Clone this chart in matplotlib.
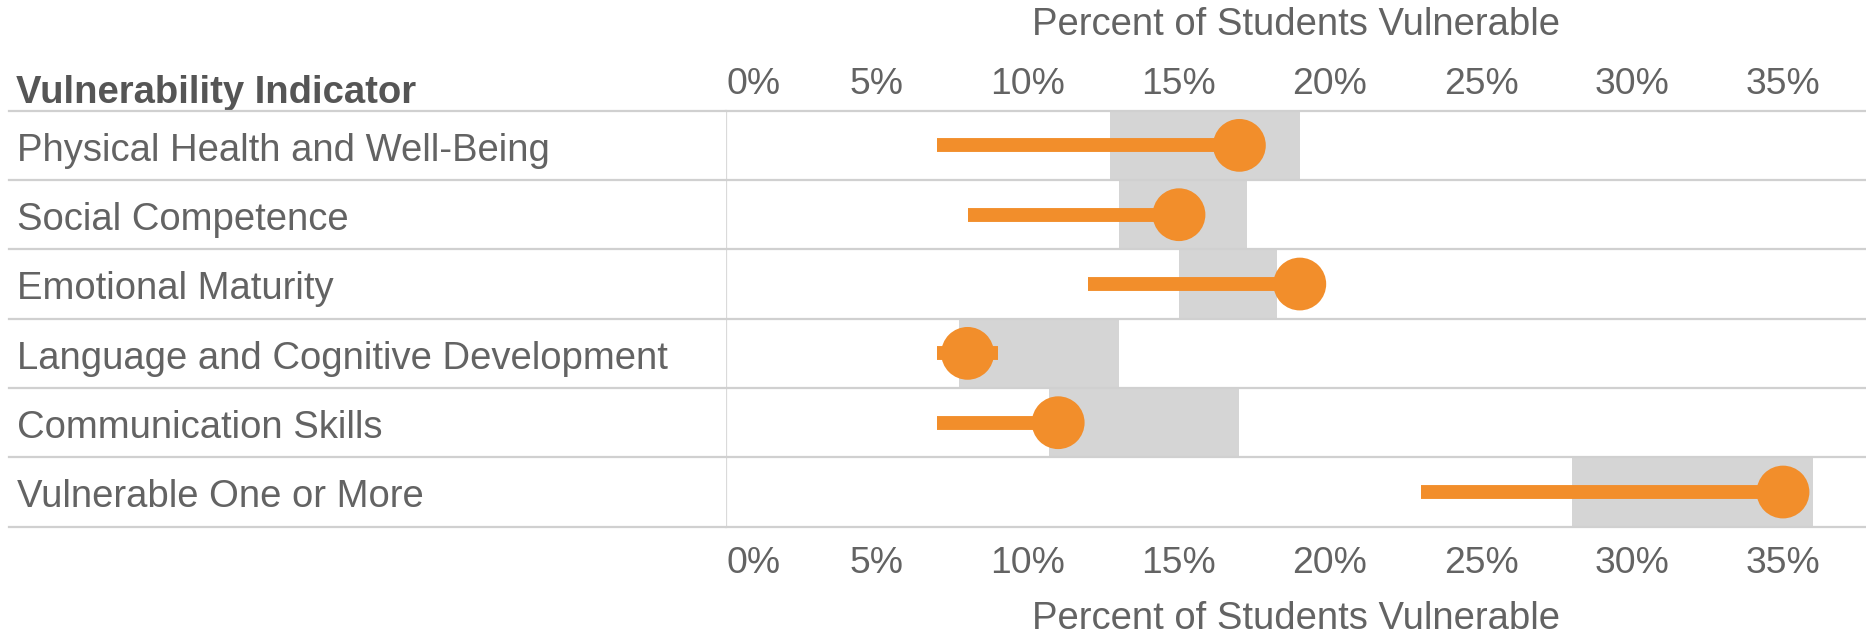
import numpy as np
import matplotlib
matplotlib.use("Agg")
import matplotlib.pyplot as plt
import matplotlib.transforms as mtransforms

plt.rcParams['font.family'] = ['Liberation Sans', 'DejaVu Sans']

#%% data
indicators = ["Physical Health and Well-Being", "Social Competence", "Emotional Maturity",
              "Language and Cognitive Development", "Communication Skills", "Vulnerable One or More"]
current = [17.0, 15.0, 19.0, 8.0, 11.0, 35.0]       # orange dot
line_lo = [7.0, 8.0, 12.0, 7.0, 7.0, 23.0]          # orange bar left end
line_hi = [17.0, 15.0, 19.0, 9.0, 11.0, 35.0]       # orange bar right end
band_lo = [12.7, 13.0, 15.0, 7.7, 10.7, 28.0]       # grey band
band_hi = [19.0, 17.25, 18.25, 13.0, 17.0, 36.0]
ticks = [0, 5, 10, 15, 20, 25, 30, 35]
tick_labels = ["0%", "5%", "10%", "15%", "20%", "25%", "30%", "35%"]

#%% layout in pixels
W, H = 1866, 635
fig = plt.figure(figsize=(W / 100, H / 100), dpi=100)
ax_l, ax_r, ax_t, ax_b = 726, 1866, 110.7, 526.7
ax = fig.add_axes([ax_l / W, 1 - ax_b / H, (ax_r - ax_l) / W, (ax_b - ax_t) / H])
lab = fig.add_axes([9 / W, 1 - ax_b / H, (ax_l - 9) / W, (ax_b - ax_t) / H])

orange = '#F28E2B'
grey_band = '#D5D5D5'
grid_c = '#D0D0D0'
txt_c = '#636363'
fs = 27.5
tfs = 26.8

n = len(indicators)
y = np.arange(n) + 0.5

ax.barh(y, np.array(band_hi) - np.array(band_lo), left=band_lo, height=1.0,
        color=grey_band, zorder=1)
ax.hlines(y, line_lo, line_hi, color=orange, linewidth=10, capstyle='butt', zorder=2)
ax.scatter(current, y, s=1444, color=orange, edgecolors='none', zorder=3)

for a in (ax, lab):
    a.set_ylim(n, 0)
    for b in range(n + 1):
        a.axhline(b, color=grid_c, linewidth=1.6, zorder=4, clip_on=False)
    for s in a.spines.values():
        s.set_visible(False)

ax.set_xlim(0, (ax_r - ax_l) / 30.2)
ax.axvline(0, color='#DADADA', linewidth=0.9, zorder=4)
ax.set_yticks([])

# bottom tick labels
ax.set_xticks(ticks)
ax.set_xticklabels(tick_labels)
ax.tick_params(axis='x', length=0, pad=14, labelsize=tfs, labelcolor=txt_c)
ax.xaxis.get_majorticklabels()[0].set_ha('left')

# top tick labels
top = ax.secondary_xaxis('top')
top.set_xticks(ticks)
top.set_xticklabels(tick_labels)
top.tick_params(axis='x', length=0, pad=11.8, labelsize=tfs, labelcolor=txt_c)
for t in top.xaxis.get_majorticklabels():
    t.set_va('baseline')
top.xaxis.get_majorticklabels()[0].set_ha('left')
for s in top.spines.values():
    s.set_visible(False)

tr = mtransforms.blended_transform_factory(ax.transAxes, fig.transFigure)
ax.text(0.5, 1 - 35 / H, "Percent of Students Vulnerable", transform=tr, ha='center',
        va='baseline', fontsize=fs, color=txt_c)
ax.text(0.5, 1 - 629 / H, "Percent of Students Vulnerable", transform=tr, ha='center',
        va='baseline', fontsize=fs, color=txt_c)

lab.set_xlim(0, ax_l - 9)
lab.set_xticks([])
lab.set_yticks([])
for i, name in enumerate(indicators):
    lab.text(8, y[i] + 0.22, name, ha='left', va='baseline', fontsize=fs, color=txt_c)
lab.text(7, -0.105, "Vulnerability Indicator", ha='left', va='baseline', fontsize=fs,
         fontweight='bold', color='#555555')

fig.savefig('out.png', dpi=100)
